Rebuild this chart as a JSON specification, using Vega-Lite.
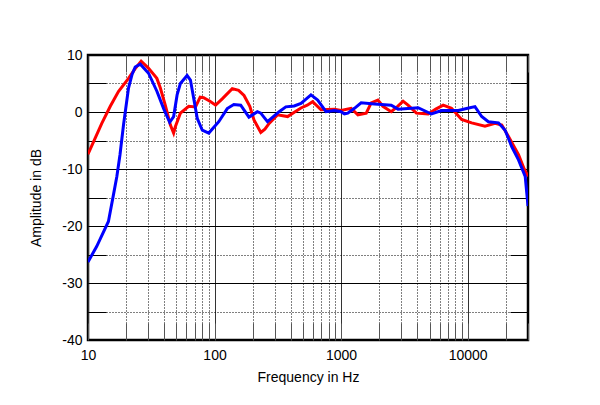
{
  "$schema": "https://vega.github.io/schema/vega-lite/v6.json",
  "width": 440,
  "height": 285,
  "autosize": {"type": "none"},
  "padding": {"left": 88, "top": 55, "right": 72, "bottom": 65},
  "background": "white",
  "config": {
    "view": {"stroke": "black", "strokeWidth": 2.5},
    "font": "Liberation Sans"
  },
  "data": {
    "values": [
      {"series": "red", "freq": 10, "db": -7.4},
      {"series": "red", "freq": 12.85, "db": -2.0},
      {"series": "red", "freq": 15, "db": 1.0},
      {"series": "red", "freq": 17.4, "db": 3.6},
      {"series": "red", "freq": 20.9, "db": 5.9},
      {"series": "red", "freq": 23.6, "db": 7.6},
      {"series": "red", "freq": 26.3, "db": 8.9},
      {"series": "red", "freq": 30, "db": 7.7},
      {"series": "red", "freq": 35, "db": 5.9},
      {"series": "red", "freq": 37.3, "db": 4.2},
      {"series": "red", "freq": 40.8, "db": 1.2},
      {"series": "red", "freq": 44.8, "db": -2.3},
      {"series": "red", "freq": 47.5, "db": -3.7},
      {"series": "red", "freq": 49, "db": -2.6},
      {"series": "red", "freq": 53.7, "db": -0.2},
      {"series": "red", "freq": 62.5, "db": 1.0},
      {"series": "red", "freq": 70.7, "db": 0.9},
      {"series": "red", "freq": 77, "db": 2.6},
      {"series": "red", "freq": 82, "db": 2.5},
      {"series": "red", "freq": 92, "db": 1.9},
      {"series": "red", "freq": 102, "db": 1.2},
      {"series": "red", "freq": 115, "db": 2.3},
      {"series": "red", "freq": 138, "db": 4.1},
      {"series": "red", "freq": 155, "db": 3.8},
      {"series": "red", "freq": 171, "db": 2.9},
      {"series": "red", "freq": 190, "db": 1.0},
      {"series": "red", "freq": 205, "db": -1.4},
      {"series": "red", "freq": 232, "db": -3.6},
      {"series": "red", "freq": 250, "db": -3.0},
      {"series": "red", "freq": 270, "db": -2.0},
      {"series": "red", "freq": 314, "db": -0.5},
      {"series": "red", "freq": 378, "db": -0.8},
      {"series": "red", "freq": 430, "db": 0.0},
      {"series": "red", "freq": 482, "db": 0.7},
      {"series": "red", "freq": 540, "db": 1.2},
      {"series": "red", "freq": 596, "db": 1.8},
      {"series": "red", "freq": 694, "db": 0.4},
      {"series": "red", "freq": 885, "db": 0.5},
      {"series": "red", "freq": 1000, "db": 0.25},
      {"series": "red", "freq": 1200, "db": 0.65},
      {"series": "red", "freq": 1358, "db": -0.5},
      {"series": "red", "freq": 1580, "db": -0.2},
      {"series": "red", "freq": 1730, "db": 1.6},
      {"series": "red", "freq": 1955, "db": 2.1},
      {"series": "red", "freq": 2140, "db": 1.0},
      {"series": "red", "freq": 2490, "db": 0.05},
      {"series": "red", "freq": 2800, "db": 1.0},
      {"series": "red", "freq": 3090, "db": 1.9},
      {"series": "red", "freq": 3380, "db": 1.2},
      {"series": "red", "freq": 3940, "db": -0.2},
      {"series": "red", "freq": 4880, "db": -0.35},
      {"series": "red", "freq": 5600, "db": 0.5},
      {"series": "red", "freq": 6410, "db": 1.2},
      {"series": "red", "freq": 7460, "db": 0.65},
      {"series": "red", "freq": 8960, "db": -1.3},
      {"series": "red", "freq": 10760, "db": -1.9},
      {"series": "red", "freq": 13710, "db": -2.5},
      {"series": "red", "freq": 16480, "db": -2.0},
      {"series": "red", "freq": 18620, "db": -2.3},
      {"series": "red", "freq": 21040, "db": -4.3},
      {"series": "red", "freq": 25240, "db": -7.5},
      {"series": "red", "freq": 28000, "db": -10.0},
      {"series": "red", "freq": 30000, "db": -11.3},
      {"series": "blue", "freq": 10, "db": -26.3},
      {"series": "blue", "freq": 11.7, "db": -23.6},
      {"series": "blue", "freq": 14.5, "db": -19.2},
      {"series": "blue", "freq": 15.9, "db": -14.5},
      {"series": "blue", "freq": 16.9, "db": -11.3},
      {"series": "blue", "freq": 17.9, "db": -7.5},
      {"series": "blue", "freq": 19.1, "db": -2.2},
      {"series": "blue", "freq": 20.9, "db": 4.2},
      {"series": "blue", "freq": 22.3, "db": 6.6},
      {"series": "blue", "freq": 23.6, "db": 7.9},
      {"series": "blue", "freq": 25.9, "db": 8.4},
      {"series": "blue", "freq": 30.1, "db": 6.8},
      {"series": "blue", "freq": 35.1, "db": 3.6},
      {"series": "blue", "freq": 39.6, "db": 0.6},
      {"series": "blue", "freq": 44.2, "db": -1.8},
      {"series": "blue", "freq": 47.5, "db": -0.8},
      {"series": "blue", "freq": 50.6, "db": 3.0},
      {"series": "blue", "freq": 53.7, "db": 5.0},
      {"series": "blue", "freq": 60.7, "db": 6.4},
      {"series": "blue", "freq": 64.5, "db": 5.6},
      {"series": "blue", "freq": 73, "db": -1.1},
      {"series": "blue", "freq": 80, "db": -3.2},
      {"series": "blue", "freq": 90, "db": -3.7},
      {"series": "blue", "freq": 108, "db": -1.7},
      {"series": "blue", "freq": 126, "db": 0.6},
      {"series": "blue", "freq": 142, "db": 1.3},
      {"series": "blue", "freq": 161, "db": 1.2},
      {"series": "blue", "freq": 187, "db": -0.9},
      {"series": "blue", "freq": 218, "db": 0.05},
      {"series": "blue", "freq": 232, "db": -0.2},
      {"series": "blue", "freq": 262, "db": -1.7},
      {"series": "blue", "freq": 324, "db": 0.05},
      {"series": "blue", "freq": 366, "db": 0.9},
      {"series": "blue", "freq": 426, "db": 1.05},
      {"series": "blue", "freq": 482, "db": 1.5},
      {"series": "blue", "freq": 578, "db": 3.0},
      {"series": "blue", "freq": 653, "db": 2.1},
      {"series": "blue", "freq": 760, "db": 0.05},
      {"series": "blue", "freq": 885, "db": 0.25},
      {"series": "blue", "freq": 1000, "db": 0.05},
      {"series": "blue", "freq": 1062, "db": -0.35},
      {"series": "blue", "freq": 1130, "db": -0.2},
      {"series": "blue", "freq": 1276, "db": 0.65},
      {"series": "blue", "freq": 1440, "db": 1.6},
      {"series": "blue", "freq": 1837, "db": 1.4},
      {"series": "blue", "freq": 2490, "db": 1.2},
      {"series": "blue", "freq": 2820, "db": 0.5},
      {"series": "blue", "freq": 4060, "db": 0.75},
      {"series": "blue", "freq": 5180, "db": -0.35},
      {"series": "blue", "freq": 6220, "db": 0.25},
      {"series": "blue", "freq": 8440, "db": 0.25},
      {"series": "blue", "freq": 10000, "db": 0.65},
      {"series": "blue", "freq": 11430, "db": 0.95},
      {"series": "blue", "freq": 12910, "db": -0.8},
      {"series": "blue", "freq": 14590, "db": -1.7},
      {"series": "blue", "freq": 17530, "db": -1.9},
      {"series": "blue", "freq": 19780, "db": -3.2},
      {"series": "blue", "freq": 22340, "db": -6.1},
      {"series": "blue", "freq": 25240, "db": -8.4},
      {"series": "blue", "freq": 28510, "db": -11.3},
      {"series": "blue", "freq": 30000, "db": -16.5}
    ]
  },
  "resolve": {"axis": {"x": "independent", "y": "independent"}},
  "layer": [
    {
      "transform": [{"filter": "datum.series == 'red'"}],
      "mark": {"type": "line", "color": "#ff0000", "strokeWidth": 3, "clip": true},
      "encoding": {
        "x": {
          "field": "freq", "type": "quantitative",
          "scale": {"type": "log", "domain": [10, 30000], "nice": false},
          "axis": {
            "orient": "bottom",
            "values": [10,20,30,40,50,60,70,80,90,100,200,300,400,500,600,700,800,900,1000,2000,3000,4000,5000,6000,7000,8000,9000,10000,20000,30000],
            "labelExpr": "(datum.value == 10 || datum.value == 100 || datum.value == 1000 || datum.value == 10000) ? toString(datum.value) : ''",
            "labelOverlap": false,
            "labelFlush": false,
            "labelFont": "Liberation Sans",
            "labelFontSize": 14,
            "labelColor": "black",
            "labelPadding": 25,
            "grid": true,
            "gridColor": {"condition": {"test": "datum.value == 10 || datum.value == 100 || datum.value == 1000 || datum.value == 10000", "value": "#333333"}, "value": "#000000"},
            "gridDash": {"condition": {"test": "datum.value == 10 || datum.value == 100 || datum.value == 1000 || datum.value == 10000", "value": []}, "value": [1, 2]},
            "gridWidth": 1,
            "gridOpacity": 1,
            "domain": false,
            "ticks": true,
            "tickSize": -17,
            "tickColor": "#555555",
            "tickWidth": 1,
            "title": "Frequency in Hz",
            "titleFont": "Liberation Sans",
            "titleFontSize": 14,
            "titleFontWeight": "normal",
            "titleColor": "black",
            "titlePadding": 8
          }
        },
        "y": {
          "field": "db", "type": "quantitative",
          "scale": {"domain": [-40, 10], "nice": false},
          "axis": {
            "orient": "left",
            "values": [-40,-35,-30,-25,-20,-15,-10,-5,0,5,10],
            "labelExpr": "datum.value % 10 == 0 ? toString(datum.value) : ''",
            "labelOverlap": false,
            "labelFlush": false,
            "labelFont": "Liberation Sans",
            "labelFontSize": 14,
            "labelColor": "black",
            "labelPadding": 24,
            "grid": true,
            "gridColor": "#000000",
            "gridDash": {"condition": {"test": "datum.value % 10 == 0", "value": []}, "value": [1, 2]},
            "gridWidth": 1,
            "gridOpacity": 1,
            "domain": false,
            "ticks": true,
            "tickSize": -18,
            "tickColor": "#000000",
            "tickWidth": 1,
            "title": "Amplitude in dB",
            "titleFont": "Liberation Sans",
            "titleFontSize": 14,
            "titleFontWeight": "normal",
            "titleColor": "black",
            "titlePadding": 18
          }
        }
      }
    },
    {
      "transform": [{"filter": "datum.series == 'blue'"}],
      "mark": {"type": "line", "color": "#0000ff", "strokeWidth": 3, "clip": true},
      "encoding": {
        "x": {"field": "freq", "type": "quantitative", "scale": {"type": "log", "domain": [10, 30000], "nice": false}, "axis": null},
        "y": {"field": "db", "type": "quantitative", "scale": {"domain": [-40, 10], "nice": false}, "axis": null}
      }
    },
    {
      "transform": [{"filter": "datum.series == 'blue'"}],
      "mark": {"type": "line", "strokeOpacity": 0, "strokeWidth": 0},
      "encoding": {
        "x": {
          "field": "freq", "type": "quantitative",
          "scale": {"type": "log", "domain": [10, 30000], "nice": false},
          "axis": {
            "orient": "top",
            "values": [20,30,40,50,60,70,80,90,200,300,400,500,600,700,800,900,2000,3000,4000,5000,6000,7000,8000,9000,20000,30000],
            "labels": false, "grid": false, "domain": false,
            "tickSize": -17, "tickColor": "#555555", "tickWidth": 1, "title": null
          }
        },
        "y": {
          "field": "db", "type": "quantitative",
          "scale": {"domain": [-40, 10], "nice": false},
          "axis": {
            "orient": "right",
            "values": [-35,-25,-15,-5,5],
            "labels": false, "grid": false, "domain": false,
            "tickSize": -18, "tickColor": "#000000", "tickWidth": 1, "title": null
          }
        }
      }
    }
  ]
}
